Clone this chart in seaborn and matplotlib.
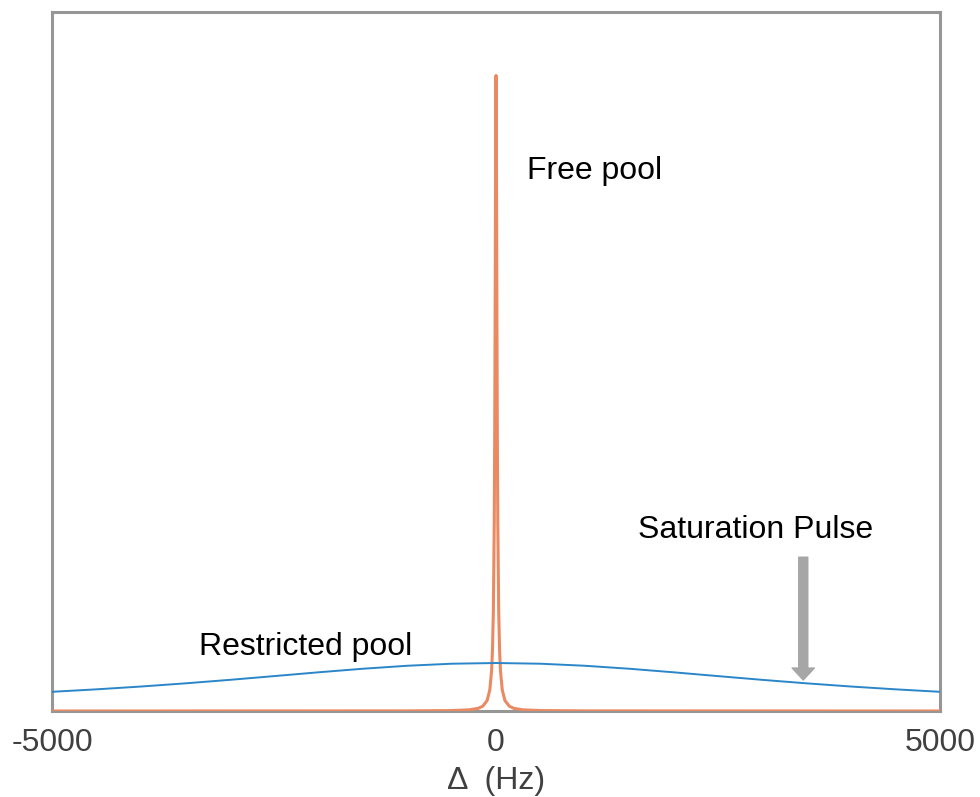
import matplotlib
matplotlib.use("Agg")
import matplotlib.pyplot as plt
import seaborn as sns

# Free pool (narrow line)
free_x = [-5000, -1000, -500, -300, -200, -150, -100, -70, -50, -40, -30, -20, -15, -10, -5, 0,
          5, 10, 15, 20, 30, 40, 50, 70, 100, 150, 200, 300, 500, 1000, 5000]
free_y = [0.0, 0.0002, 0.0007, 0.0019, 0.0042, 0.0075, 0.0166, 0.0333, 0.0633, 0.0955, 0.158, 0.297, 0.429, 0.628, 0.871, 1.0,
          0.871, 0.628, 0.429, 0.297, 0.158, 0.0955, 0.0633, 0.0333, 0.0166, 0.0075, 0.0042, 0.0019, 0.0007, 0.0002, 0.0]

# Restricted pool (broad line)
restr_x = [-5000, -4500, -4000, -3500, -3000, -2500, -2000, -1500, -1000, -500, 0,
           500, 1000, 1500, 2000, 2500, 3000, 3500, 4000, 4500, 5000]
restr_y = [0.0302, 0.0341, 0.0385, 0.0435, 0.0490, 0.0549, 0.0609, 0.0665, 0.0712, 0.0744, 0.0755,
           0.0744, 0.0712, 0.0665, 0.0609, 0.0549, 0.0490, 0.0435, 0.0385, 0.0341, 0.0302]

xticks = [-5000, 0, 5000]
xtick_labels = ["-5000", "0", "5000"]

sns.set_style("white")
plt.rcParams["font.family"] = ["Liberation Sans", "DejaVu Sans"]

fig = plt.figure(figsize=(9.8, 7.97), dpi=100)
ax = fig.add_axes([0.0531, 0.1079, 0.9061, 0.8771])

sns.lineplot(x=free_x, y=free_y, ax=ax, color="#E98A62", lw=2.2, zorder=3, sort=False)
sns.lineplot(x=restr_x, y=restr_y, ax=ax, color="#2A86C8", lw=1.4, zorder=4, sort=False)

ax.set_xlim(-5000, 5000)
ax.set_ylim(0, 1.1)
ax.set_xticks(xticks)
ax.set_xticklabels(xtick_labels)
ax.set_yticks([])
ax.tick_params(axis="x", length=0, pad=12, labelsize=23, labelcolor="#404040")
ax.set_xlabel("\u0394  (Hz)", fontsize=23, color="#404040", labelpad=6)
ax.set_ylabel("")

for s in ax.spines.values():
    s.set_color("#969696")
    s.set_linewidth(2.2)
    s.set_zorder(2.5)

ax.text(350, 0.85, "Free pool", fontsize=23, color="black", ha="left", va="center")
ax.text(-3350, 0.100, "Restricted pool", fontsize=23, color="black", ha="left", va="center")
ax.text(1600, 0.285, "Saturation Pulse", fontsize=23, color="black", ha="left", va="center")

ax.annotate("", xy=(3460, 0.0488), xytext=(3460, 0.242),
            arrowprops=dict(arrowstyle="simple,head_length=0.86,head_width=1.6,tail_width=0.65",
                            color="#A6A6A6", mutation_scale=10, shrinkA=0, shrinkB=0))

fig.savefig("out.png", dpi=100)
